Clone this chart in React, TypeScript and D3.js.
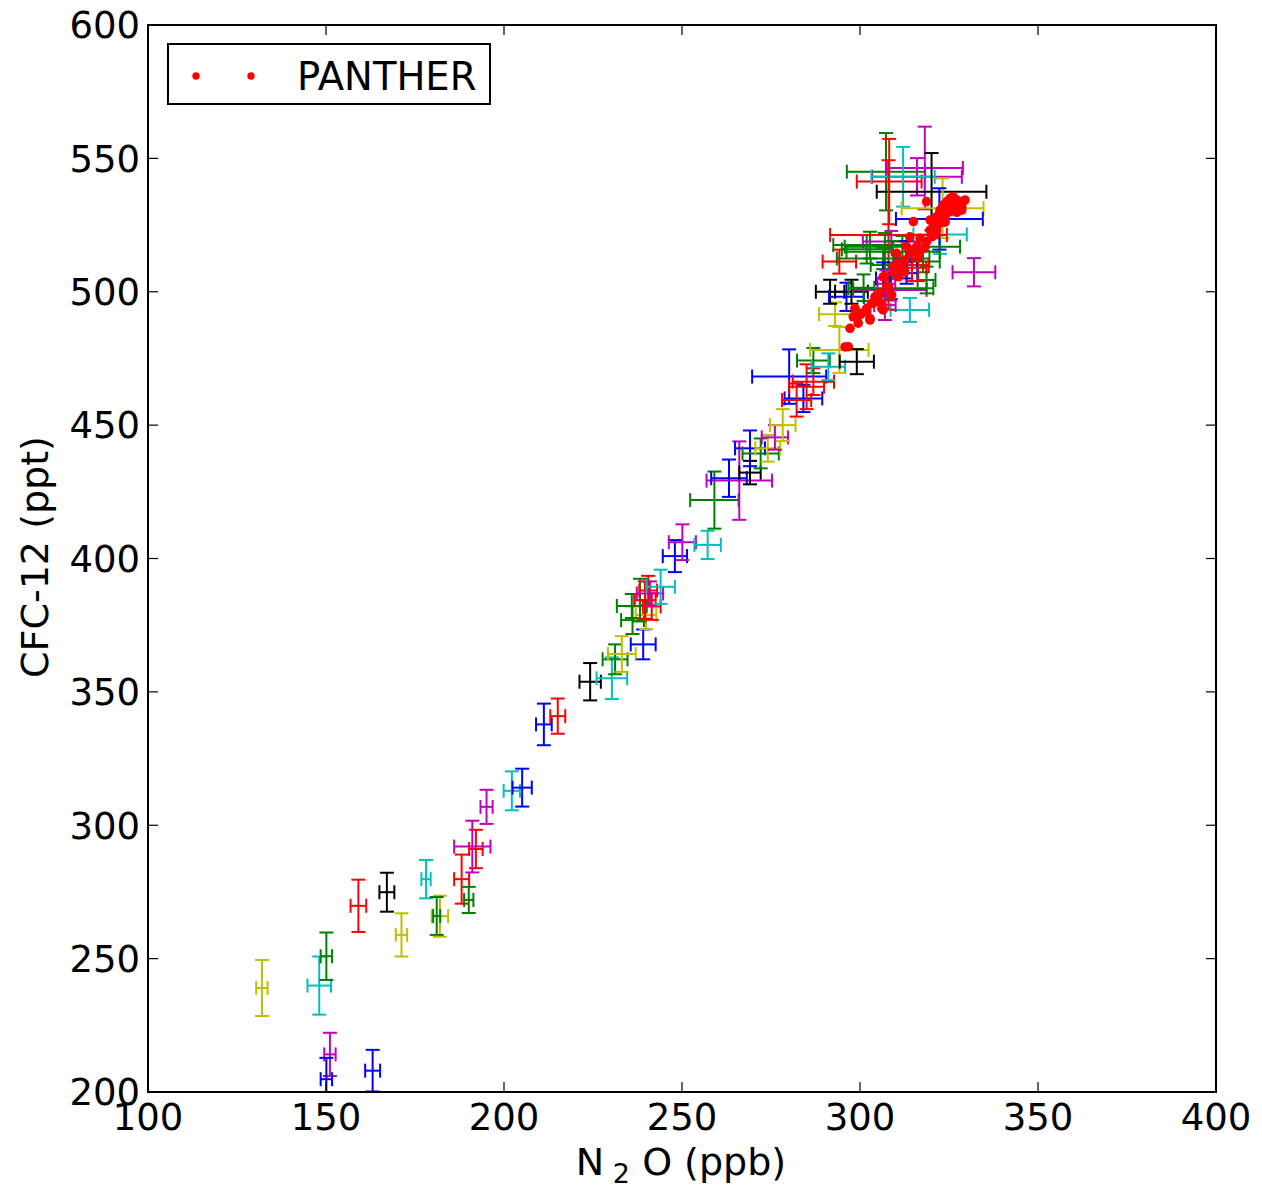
import React from "react";
import * as d3 from "d3";

// tracer-tracer error bar points (N2O ppb, CFC-12 ppt), colour from the matplotlib cycle
const n2o = [
  132.0, 148.1, 150.1, 151.1, 150.1, 163.1, 159.1, 167.1, 171.2, 178.1, 182.0, 181.1, 188.1, 190.1,
  192.1, 191.1, 195.1, 202.2, 205.1, 211.2, 215.1, 224.2, 230.3, 231.2, 233.1, 239.1, 236.1, 239.9,
  235.9, 238.2, 239.6, 241.5, 240.5, 241.0, 244.0, 248.0, 250.1, 257.2, 259.1, 266.1, 263.2, 269.1,
  269.1, 272.1, 274.1, 276.1, 278.3, 284.1, 280.1, 282.2, 285.0, 286.9, 286.9, 291.1, 294.2, 299.1,
  294.2, 293.0, 291.6, 296.2, 297.6, 308.4, 314.0, 332.0, 301.9, 302.8, 322.5, 307.3, 308.2, 318.2,
  316.0, 312.1, 320.1, 323.2, 322.3, 308.0, 308.8, 311.9, 309.3, 306.5, 308.7, 301.0, 318.7, 317.7,
  313.1, 316.3, 307.0, 306.5, 313.0, 307.4, 307.0, 314.6,
];
const cfc12 = [
  239.0, 239.9, 250.9, 214.1, 204.8, 208.0, 269.8, 274.9, 258.9, 279.8, 265.9, 266.0, 279.8, 272.0,
  291.1, 292.0, 306.9, 312.9, 314.1, 337.8, 340.9, 353.8, 355.1, 362.2, 364.2, 367.8, 376.9, 378.8,
  382.2, 384.4, 384.4, 382.0, 388.0, 386.9, 389.4, 400.9, 406.1, 405.1, 421.9, 429.2, 430.1, 432.2,
  441.3, 439.4, 441.3, 445.4, 450.0, 460.0, 468.2, 459.4, 464.4, 466.3, 474.2, 471.9, 478.2, 473.8,
  511.3, 491.6, 500.0, 498.1, 500.0, 500.7, 493.2, 507.3, 515.9, 517.5, 521.5, 545.0, 541.3, 546.4,
  543.1, 543.1, 537.5, 531.3, 527.3, 521.3, 518.8, 516.9, 515.0, 512.5, 501.3, 501.5, 504.4, 511.3,
  507.0, 510.0, 510.0, 505.0, 512.0, 503.0, 495.0, 509.0,
];
const n2oErr = [
  1.6, 3.3, 1.6, 1.6, 1.6, 2.1, 2.2, 2.1, 1.6, 1.3, 2.3, 1.0, 2.1, 1.3,
  1.9, 5.1, 1.7, 2.3, 2.7, 2.2, 2.1, 3.0, 4.3, 3.5, 3.9, 3.5, 3.2, 2.9,
  4.2, 1.5, 3.0, 2.5, 2.5, 3.7, 4.0, 3.4, 3.8, 3.7, 6.8, 9.2, 5.0, 3.0,
  4.2, 5.1, 3.5, 3.7, 3.6, 5.3, 10.4, 4.1, 4.9, 5.8, 4.6, 4.7, 8.2, 4.8,
  4.7, 4.5, 4.0, 4.9, 4.6, 10.3, 5.4, 6.0, 7.0, 10.3, 7.5, 11.0, 9.1, 10.7,
  12.6, 8.9, 15.4, 11.5, 12.2, 16.4, 8.0, 16.2, 13.1, 13.0, 11.9, 3.0, 2.5, 4.7,
  3.0, 3.0, 4.0, 2.0, 3.0, 2.5, 3.0, 4.0,
];
const cfc12Err = [
  10.5, 10.9, 8.9, 8.1, 8.0, 7.8, 9.8, 7.3, 8.1, 7.2, 7.7, 7.1, 9.2, 4.9,
  7.2, 9.7, 6.4, 7.3, 7.1, 7.8, 6.6, 7.0, 7.8, 5.6, 6.7, 5.6, 5.2, 5.3,
  4.5, 8.0, 7.0, 5.0, 5.5, 4.5, 6.4, 6.0, 6.7, 5.3, 10.7, 14.7, 7.0, 4.4,
  6.7, 5.6, 5.0, 4.6, 6.0, 5.1, 10.2, 6.2, 8.4, 5.0, 4.7, 5.0, 8.6, 4.7,
  4.5, 4.4, 4.5, 5.3, 4.5, 4.0, 4.5, 5.3, 5.3, 5.0, 7.3, 14.5, 16.0, 15.5,
  7.0, 11.2, 14.5, 11.2, 11.5, 28.0, 4.0, 4.0, 4.0, 4.0, 4.0, 5.0, 5.0, 4.0,
  4.0, 6.0, 12.0, 6.0, 7.0, 5.0, 5.6, 5.0,
];
const series = [
  "y", "c", "g", "m", "b", "b", "r", "k", "y", "c", "y", "g", "r", "g",
  "r", "m", "m", "c", "b", "b", "r", "k", "c", "g", "y", "b", "g", "y",
  "g", "g", "r", "r", "r", "m", "c", "b", "m", "c", "g", "m", "b", "k",
  "b", "g", "y", "m", "y", "b", "b", "r", "r", "r", "g", "c", "y", "k",
  "r", "y", "k", "b", "k", "m", "c", "m", "g", "g", "c", "g", "r", "m",
  "m", "c", "k", "y", "b", "r", "m", "g", "g", "g", "g", "g", "g", "g",
  "b", "r", "g", "b", "b", "m", "m", "r",
];

// PANTHER in-situ measurements
const pantherN2o = [
  295.8, 296.7, 297.2, 298.6, 298.1, 299.5, 300.0, 300.5, 301.9, 301.9, 302.8, 302.8, 303.3, 303.7,
  304.2, 305.1, 305.6, 306.1, 306.1, 306.5, 306.5, 307.0, 307.5, 308.0, 308.9, 309.4, 309.8, 310.3,
  310.8, 311.2, 310.3, 311.7, 312.6, 313.1, 314.0, 314.0, 315.0, 315.0, 315.9, 316.9, 318.3, 318.7,
  318.7, 319.7, 319.7, 320.1, 320.6, 321.5, 321.5, 322.5, 322.5, 322.5, 323.4, 323.9, 324.4, 324.4,
  325.3, 325.3, 326.2, 326.7, 327.2, 327.6, 328.1, 328.6, 325.3, 327.2, 323.9, 321.1, 329.5, 328.6,
  317.1, 316.3, 312.6,
];
const pantherCfc12 = [
  479.3, 479.4, 486.3, 493.8, 490.6, 488.2, 491.3, 491.9, 493.8, 492.5, 490.0, 489.4, 495.7, 495.7,
  498.1, 498.1, 499.4, 495.7, 493.8, 493.2, 505.6, 505.6, 501.9, 501.9, 498.8, 509.4, 506.9, 510.7,
  505.6, 508.2, 514.4, 510.0, 511.9, 516.9, 514.4, 520.6, 515.0, 526.3, 516.9, 520.0, 516.9, 518.8,
  533.8, 523.1, 526.9, 520.6, 525.7, 528.1, 523.1, 530.6, 525.7, 530.0, 532.5, 528.1, 533.8, 531.9,
  535.0, 530.0, 535.6, 531.9, 534.4, 533.2, 533.2, 530.6, 532.5, 529.8, 526.1, 521.3, 534.4, 531.9,
  515.6, 512.6, 507.4,
];

const xTicks = [100, 150, 200, 250, 300, 350, 400];
const yTicks = [200, 250, 300, 350, 400, 450, 500, 550, 600];

const palette: Record<string, string> = {
  b: "#0000ff",
  g: "#008000",
  r: "#ff0000",
  c: "#00bfbf",
  m: "#bf00bf",
  y: "#bfbf00",
  k: "#000000",
};

const W = 1262;
const H = 1189;
const left = 148, right = 1216, top = 25, bottom = 1092;
const FONT = "'DejaVu Sans', sans-serif";

export default function App() {
  const x = d3.scaleLinear().domain([100, 400]).range([left, right]);
  const y = d3.scaleLinear().domain([200, 600]).range([bottom, top]);
  const cap = 7;
  const tick = 10;

  return (
    <svg
      width={W}
      height={H}
      style={{ position: "absolute", left: 0, top: 0, background: "#fff" }}
      fontFamily={FONT}
    >
      <defs>
        <clipPath id="plot">
          <rect x={left} y={top} width={right - left} height={bottom - top} />
        </clipPath>
      </defs>

      <g clipPath="url(#plot)">
        {n2o.map((v, i) => {
          const cx = x(v);
          const cy = y(cfc12[i]);
          const x0 = x(v - n2oErr[i]);
          const x1 = x(v + n2oErr[i]);
          const y0 = y(cfc12[i] - cfc12Err[i]);
          const y1 = y(cfc12[i] + cfc12Err[i]);
          const col = palette[series[i]];
          return (
            <g key={i} stroke={col} strokeWidth={2} fill="none">
              <line x1={x0} x2={x1} y1={cy} y2={cy} />
              <line x1={cx} x2={cx} y1={y0} y2={y1} />
              <line x1={x0} x2={x0} y1={cy - cap} y2={cy + cap} />
              <line x1={x1} x2={x1} y1={cy - cap} y2={cy + cap} />
              <line x1={cx - cap} x2={cx + cap} y1={y0} y2={y0} />
              <line x1={cx - cap} x2={cx + cap} y1={y1} y2={y1} />
            </g>
          );
        })}
        {pantherN2o.map((v, i) => (
          <circle key={"p" + i} cx={x(v)} cy={y(pantherCfc12[i])} r={4.8} fill="#ff0000" />
        ))}
      </g>

      {/* ticks, inward on all four sides */}
      <g stroke="#000" strokeWidth={1.2}>
        {xTicks.map((t) => (
          <g key={"xt" + t}>
            <line x1={x(t)} x2={x(t)} y1={bottom} y2={bottom - tick} />
            <line x1={x(t)} x2={x(t)} y1={top} y2={top + tick} />
          </g>
        ))}
        {yTicks.map((t) => (
          <g key={"yt" + t}>
            <line x1={left} x2={left + tick} y1={y(t)} y2={y(t)} />
            <line x1={right} x2={right - tick} y1={y(t)} y2={y(t)} />
          </g>
        ))}
      </g>

      <rect
        x={left}
        y={top}
        width={right - left}
        height={bottom - top}
        fill="none"
        stroke="#000"
        strokeWidth={2}
      />

      {xTicks.map((t) => (
        <text key={"xl" + t} x={x(t)} y={1130} fontSize={37} textAnchor="middle" fill="#000">
          {t}
        </text>
      ))}
      {yTicks.map((t) => (
        <text
          key={"yl" + t}
          x={left - 8}
          y={y(t)}
          dy="0.36em"
          fontSize={37}
          textAnchor="end"
          fill="#000"
        >
          {t}
        </text>
      ))}

      <text x={681} y={1175} fontSize={38} textAnchor="middle" fill="#000">
        <tspan>N</tspan>
        <tspan fontSize={27} dy={8}> 2</tspan>
        <tspan dy={-8}> O (ppb)</tspan>
      </text>
      <text
        transform="translate(48,557) rotate(-90)"
        fontSize={38}
        textAnchor="middle"
        fill="#000"
      >
        CFC-12 (ppt)
      </text>

      {/* legend */}
      <rect x={168} y={44} width={322} height={60} fill="#fff" stroke="#000" strokeWidth={2} />
      <circle cx={196} cy={76} r={3.7} fill="#ff0000" />
      <circle cx={251} cy={76} r={3.7} fill="#ff0000" />
      <text x={297} y={90} fontSize={38.5} fill="#000">
        PANTHER
      </text>
    </svg>
  );
}
